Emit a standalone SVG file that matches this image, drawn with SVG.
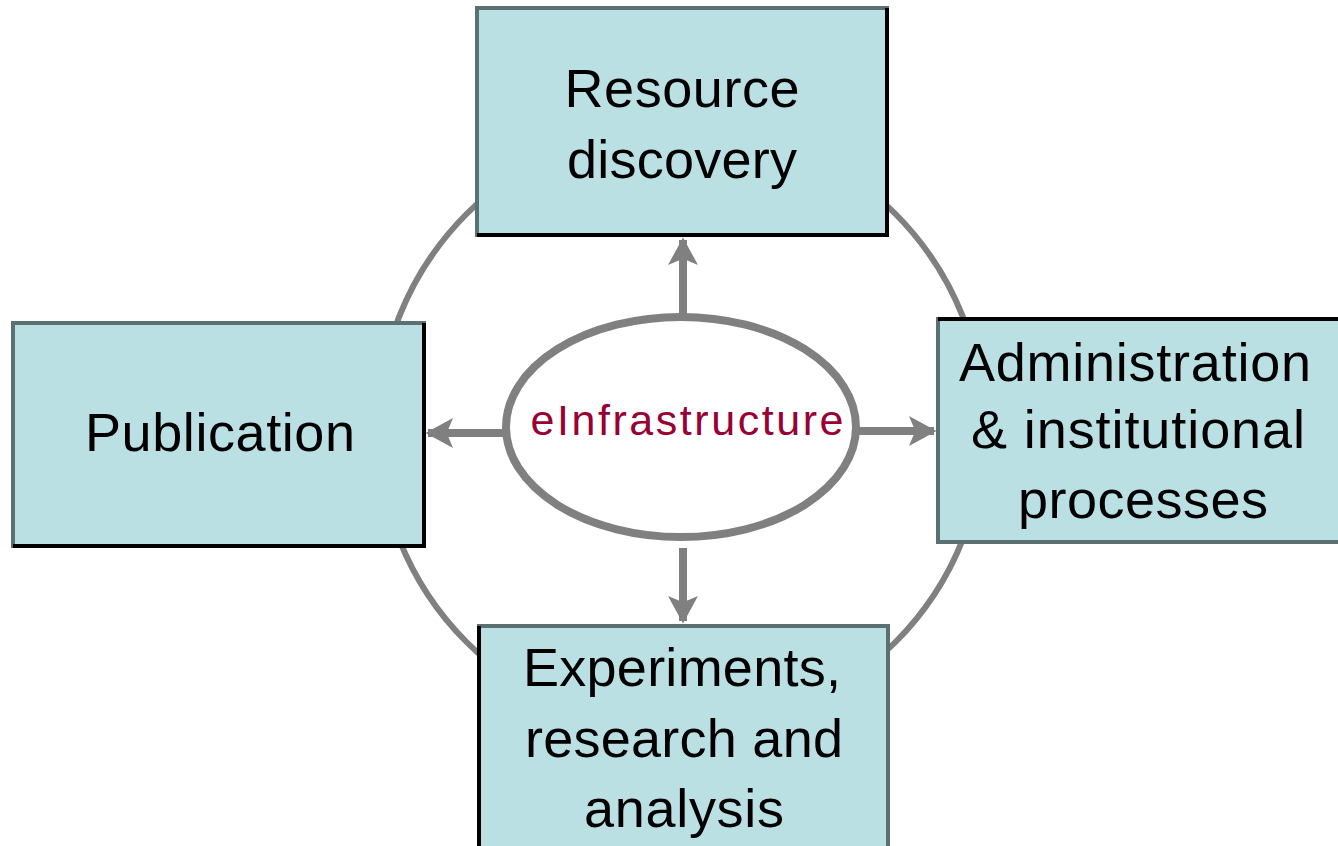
<svg xmlns="http://www.w3.org/2000/svg" width="1338" height="846" viewBox="0 0 1338 846">
<defs>
<marker id="ah" markerUnits="userSpaceOnUse" markerWidth="30" markerHeight="30" refX="20" refY="12" orient="auto" viewBox="0 0 24 24">
<path d="M0,0 L22,12 L0,24 L5,12 Z" fill="#808080"/>
</marker>
</defs>
<style>
.box{fill:#bbe0e3;stroke:#5b7071;stroke-width:4}
.shade{fill:none;stroke:#000;stroke-width:4}
.lbl{font-family:"Liberation Sans",Arial,sans-serif;font-size:54px;fill:#000;text-anchor:middle}
.conn{stroke:#808080;stroke-width:8;fill:none}
</style>
<rect width="1338" height="846" fill="#fff"/>
<g id="ring">
<circle cx="681" cy="428" r="303" fill="none" stroke="#808080" stroke-width="6"/>
</g>
<g id="resource-discovery">
<rect class="box" x="477" y="8" width="410" height="227"/>
<path class="shade" d="M887,8 V235 H477"/>
<text class="lbl" x="682" y="107" textLength="235">Resource</text>
<text class="lbl" x="682" y="178" textLength="230">discovery</text>
</g>
<g id="publication">
<rect class="box" x="13" y="323" width="411" height="223"/>
<path class="shade" d="M424,323 V546 H13"/>
<text class="lbl" x="220" y="451" textLength="270">Publication</text>
</g>
<g id="administration">
<rect class="box" x="938" y="319" width="404" height="223"/>
<path class="shade" d="M938,319 H1342"/>
<text class="lbl" x="1135" y="381" textLength="352">Administration</text>
<text class="lbl" x="1138" y="448" textLength="334">&amp; institutional</text>
<text class="lbl" x="1143" y="518" textLength="250">processes</text>
</g>
<g id="experiments">
<rect class="box" x="479" y="626" width="409" height="230"/>
<path class="shade" d="M479,626 V856"/>
<text class="lbl" x="682" y="686" textLength="318">Experiments,</text>
<text class="lbl" x="684" y="757" textLength="318">research and</text>
<text class="lbl" x="684" y="827" textLength="200">analysis</text>
</g>
<g id="einfrastructure">
<ellipse cx="681" cy="427" rx="175" ry="110" fill="#fff" stroke="#808080" stroke-width="8"/>
<text x="687" y="435" font-family="'Liberation Sans',Arial,sans-serif" font-size="43" fill="#990033" text-anchor="middle" textLength="313">eInfrastructure</text>
</g>
<g id="connectors">
<line class="conn" x1="683" y1="314" x2="683" y2="240" marker-end="url(#ah)"/>
<line class="conn" x1="505" y1="433" x2="428" y2="433" marker-end="url(#ah)"/>
<line class="conn" x1="858" y1="431" x2="934" y2="431" marker-end="url(#ah)"/>
<line class="conn" x1="683" y1="548" x2="683" y2="621" marker-end="url(#ah)"/>
</g>
</svg>
